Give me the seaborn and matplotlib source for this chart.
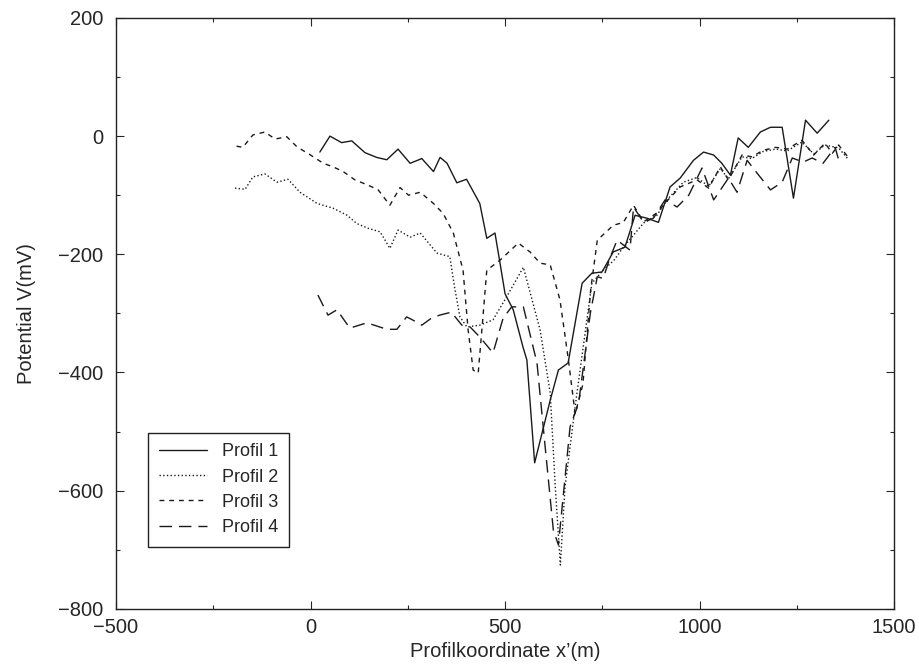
import pandas as pd
import matplotlib
matplotlib.use("Agg")
import matplotlib.pyplot as plt
from matplotlib.ticker import MultipleLocator
import seaborn as sns

# Profil 1 (durchgezogen)
x_p1 = [24, 50, 80, 106, 140, 170, 196, 225, 256, 286, 316, 333, 351, 376, 401,
        435, 453, 474, 487, 500, 521, 546, 556, 576, 616, 637, 662, 698, 723, 749,
        778, 808, 834, 865, 894, 924, 950, 984, 1010, 1036, 1057, 1079, 1099, 1125,
        1156, 1182, 1212, 1241, 1272, 1302, 1332]
v_p1 = [-27, 0, -11, -8, -28, -36, -40, -22, -46, -38, -60, -36, -46, -79, -73,
        -114, -173, -164, -215, -267, -294, -357, -379, -553, -447, -396, -384, -249, -232, -230,
        -196, -188, -134, -139, -146, -86, -71, -41, -27, -32, -46, -66, -3, -19,
        7, 15, 15, -105, 27, 5, 27]

# Profil 2 (gepunktet)
x_p2 = [-194, -168, -148, -117, -86, -58, -27, 17, 58, 94, 119, 148, 179, 204, 225,
        256, 282, 325, 358, 370, 384, 402, 435, 469, 504, 547, 590, 616, 629, 642,
        654, 680, 723, 752, 780, 804, 856, 890, 916, 958, 993, 1023, 1053, 1074, 1109,
        1134, 1163, 1195, 1225, 1263, 1293, 1322, 1357, 1383]
v_p2 = [-88, -90, -69, -64, -78, -73, -95, -114, -122, -134, -148, -156, -162, -190, -159,
        -171, -164, -198, -204, -255, -306, -323, -320, -311, -272, -222, -328, -435, -594, -726,
        -594, -458, -249, -227, -210, -188, -147, -134, -108, -78, -70, -85, -55, -72, -35,
        -38, -26, -22, -25, -10, -30, -15, -20, -40]

# Profil 3 (kurz gestrichelt)
x_p3 = [-190, -174, -148, -117, -91, -61, -35, 0, 33, 58, 84, 114, 148, 174, 204,
        230, 252, 282, 316, 341, 367, 392, 405, 418, 431, 441, 453, 487, 534, 564,
        590, 616, 641, 663, 680, 700, 720, 737, 778, 804, 830, 856, 890, 916, 950,
        993, 1023, 1053, 1074, 1109, 1134, 1163, 1195, 1225, 1263, 1293, 1322, 1341, 1357, 1383]
v_p3 = [-17, -19, 2, 7, -5, -1, -18, -32, -46, -52, -60, -74, -83, -91, -117,
        -87, -100, -95, -114, -131, -164, -227, -328, -396, -401, -323, -227, -210, -181, -196,
        -215, -218, -277, -380, -470, -420, -260, -176, -151, -146, -117, -145, -130, -110, -86,
        -74, -88, -52, -74, -32, -35, -24, -19, -22, -7, -32, -12, -29, -15, -37]

# Profil 4 (lang gestrichelt)
x_p4 = [19, 45, 68, 101, 145, 196, 222, 247, 262, 286, 311, 332, 362, 389, 410,
        435, 469, 495, 517, 547, 582, 603, 624, 637, 667, 689, 719, 737, 752, 770,
        788, 821, 830, 856, 881, 911, 942, 972, 1006, 1036, 1074, 1096, 1122, 1148, 1182,
        1212, 1238, 1266, 1289, 1317, 1348, 1361]
v_p4 = [-269, -303, -294, -325, -316, -327, -327, -306, -311, -320, -308, -303, -298, -320, -323,
        -340, -367, -308, -289, -289, -384, -526, -667, -692, -492, -452, -300, -238, -241, -205,
        -176, -193, -120, -146, -139, -108, -120, -100, -54, -108, -71, -95, -41, -63, -91,
        -78, -37, -44, -37, -46, -19, -49]

profile = ["Profil 1", "Profil 2", "Profil 3", "Profil 4"]
xs = [x_p1, x_p2, x_p3, x_p4]
vs = [v_p1, v_p2, v_p3, v_p4]
stile = ["-", ":", (0, (3.5, 3.5)), (0, (9, 5))]

sns.set_style("ticks")
plt.rcParams['font.family'] = ['Liberation Sans', 'DejaVu Sans']

fig = plt.figure(figsize=(9.2, 6.66), dpi=100)
ax = fig.add_axes([0.126, 0.086, 0.846, 0.887])

for name, x, v, ls in zip(profile, xs, vs, stile):
    df = pd.DataFrame({"x": x, "V": v})
    sns.lineplot(data=df, x="x", y="V", ax=ax, color="#1a1a1a", linewidth=1.0,
                 linestyle=ls, label=name, estimator=None, sort=False)

ax.set_xlim(-500, 1500)
ax.set_ylim(-800, 200)
ax.xaxis.set_major_locator(MultipleLocator(500))
ax.xaxis.set_minor_locator(MultipleLocator(250))
ax.yaxis.set_major_locator(MultipleLocator(200))
ax.yaxis.set_minor_locator(MultipleLocator(100))
ax.tick_params(which="both", direction="in", top=True, right=True, labelsize=14.5, width=0.8)
ax.tick_params(which="major", length=6)
ax.tick_params(axis="x", which="major", pad=7)
ax.tick_params(axis="y", which="major", pad=9)
ax.tick_params(which="minor", length=3)
for s in ax.spines.values():
    s.set_linewidth(1.0)
    s.set_color("#222222")

ax.set_xlabel("Profilkoordinate x’(m)", fontsize=14.5, labelpad=3)
ax.set_ylabel("Potential V(mV)", fontsize=14.5, labelpad=16)

leg = ax.legend(loc="lower left", bbox_to_anchor=(0.041, 0.105), fontsize=13,
                frameon=True, fancybox=False, edgecolor="#222222", framealpha=1,
                handlelength=2.7, handletextpad=0.8, borderpad=0.6, labelspacing=0.45,
                borderaxespad=0)
leg.get_frame().set_linewidth(1.0)

fig.savefig("out.png", dpi=100)
